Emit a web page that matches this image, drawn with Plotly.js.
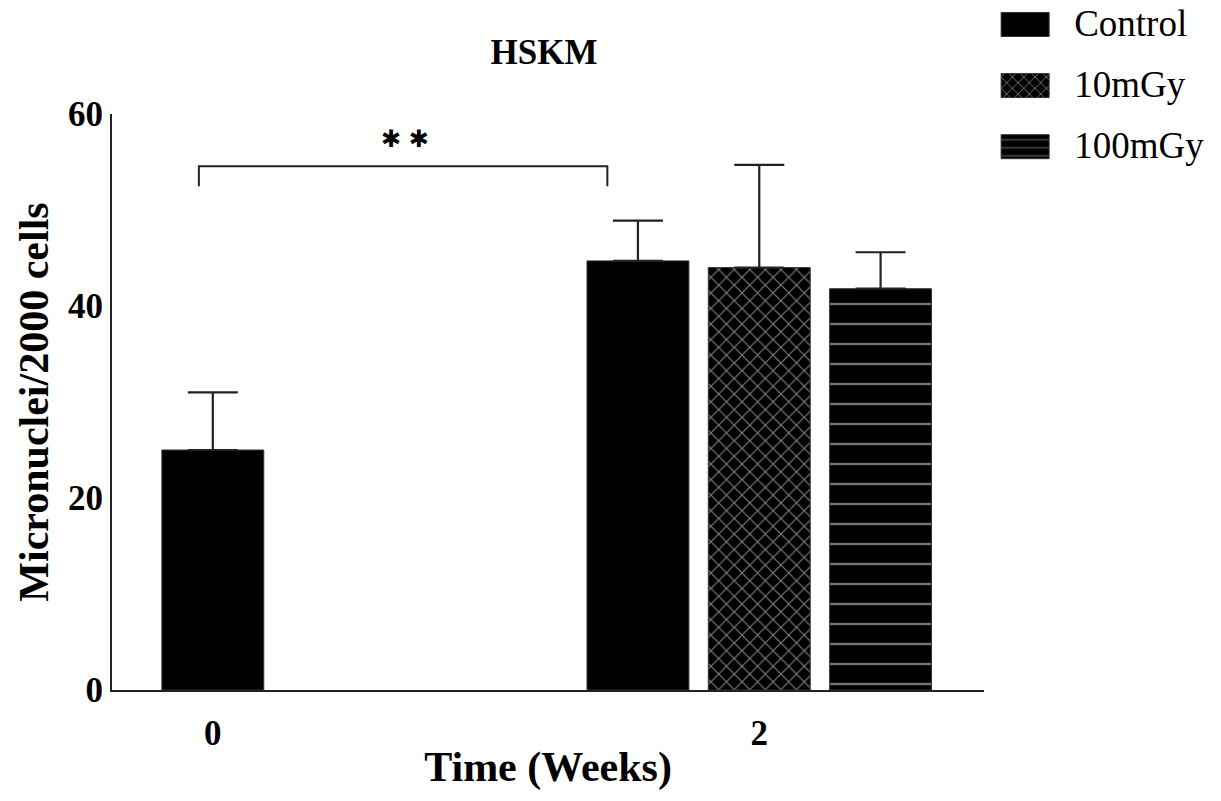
<!DOCTYPE html>
<html>
<head>
<meta charset="utf-8">
<script src="https://cdn.plot.ly/plotly-3.0.1.min.js"></script>
<style>html,body{margin:0;padding:0;background:#fff;}#chart{width:1221px;height:801px;}</style>
</head>
<body>
<div id="chart"></div>
<script>
// ---- data ----
const weeks = [0, 2];
const weekLabels = ["0", "2"];
const controlMean = [25.0, 44.7];
const controlErr = [6.0, 4.2];
const mGy10Week = [2];
const mGy10Mean = [44.0];
const mGy10Err = [10.7];
const mGy100Week = [2];
const mGy100Mean = [41.8];
const mGy100Err = [3.8];
const seriesNames = ["Control", "10mGy", "100mGy"];

// ---- style ----
const W = 0.373;   // bar width (x units)
const D = 0.444;   // group offset
const FONT = "Liberation Serif, Times New Roman, serif";
const lineStyle = {color: "#333", width: 1};
const errStyle = (arr) => ({type: "data", symmetric: false, array: arr, arrayminus: arr.map(() => 0),
  color: "#222", thickness: 2.2, width: 25});

const traces = [
  {type: "bar", name: seriesNames[0], legendgroup: "a", x: weeks, y: controlMean,
   width: W, offset: [-W / 2, -D - W / 2],
   marker: {color: "#000", line: lineStyle}, error_y: errStyle(controlErr)},
  {type: "bar", name: seriesNames[1], legendgroup: "b", x: mGy10Week, y: mGy10Mean,
   width: W, offset: -W / 2,
   marker: {color: "#000", line: lineStyle,
     pattern: {shape: "x", fgcolor: "#fff", bgcolor: "#000", size: 11, solidity: 0.2, fillmode: "overlay"}},
   error_y: errStyle(mGy10Err)},
  {type: "bar", name: seriesNames[2], legendgroup: "c", x: mGy100Week, y: mGy100Mean,
   width: W, offset: D - W / 2,
   marker: {color: "#000", line: lineStyle,
     pattern: {shape: "-", fgcolor: "#e6e6e6", bgcolor: "#000", size: 20, solidity: 0.12, fillmode: "overlay"}},
   error_y: errStyle(mGy100Err)}
];

const layout = {
  width: 1221, height: 801,
  margin: {l: 112, r: 236, t: 114, b: 110.5},
  paper_bgcolor: "#fff", plot_bgcolor: "#fff",
  barmode: "overlay",
  showlegend: true,
  font: {family: FONT, color: "#000"},
  title: {text: "<b>HSKM</b>", font: {family: FONT, size: 35, color: "#000"},
    x: 0.4455, xref: "container", xanchor: "center", y: 0.936, yref: "container", yanchor: "middle"},
  xaxis: {range: [-0.369, 2.823], tickvals: weeks, ticktext: weekLabels,
    showline: true, linecolor: "#222", linewidth: 2, showgrid: false, zeroline: false,
    ticks: "", ticklabelstandoff: 11,
    tickfont: {family: FONT, size: 35, color: "#000", weight: "bold"},
    title: {text: "<b>Time (Weeks)</b>", font: {family: FONT, size: 42, color: "#000"}, standoff: 0}},
  yaxis: {range: [0, 60], dtick: 20, showline: true, linecolor: "#222", linewidth: 2,
    showgrid: false, zeroline: false, ticks: "", ticklabelstandoff: 0,
    tickfont: {family: FONT, size: 35, color: "#000", weight: "bold"},
    title: {text: "<b>Micronuclei/2000 cells</b>", font: {family: FONT, size: 42, color: "#000"}, standoff: 6}},
  legend: {xref: "container", yref: "container", x: 0.806, y: 1, xanchor: "left", yanchor: "top",
    font: {family: FONT, size: 37, color: "#000"}, itemwidth: 80, traceorder: "grouped",
    tracegroupgap: 10, bgcolor: "rgba(0,0,0,0)"},
  shapes: [
    {type: "path", xref: "x", yref: "y", path: "M -0.051 52.48 L -0.051 54.56 L 1.444 54.56 L 1.444 52.48",
     line: {color: "#222", width: 2}}
  ],
  annotations: [
    {xref: "x", yref: "y", x: 0.702, y: 57.4, text: "✱ ✱", showarrow: false,
     font: {family: "DejaVu Sans, sans-serif", size: 24, color: "#000"}, yanchor: "middle"}
  ]
};

let legendShifted = false;
function fixLegend() {
  const lg = document.querySelector("#chart .legend");
  if (lg && !legendShifted) {
    const t = lg.getAttribute("transform") || "";
    const mm = t.match(/translate\(\s*([-\d.]+)[ ,]+([-\d.]+)\s*\)/);
    if (mm) {
      lg.setAttribute("transform", `translate(${parseFloat(mm[1])},${parseFloat(mm[2]) - 9})`);
      legendShifted = true;
    }
  }
  document.querySelectorAll("#chart .legend .traces").forEach(tr => {
    const txt = tr.querySelector("text.legendtext");
    if (!txt) return;
    const tb = txt.getBoundingClientRect();
    tr.querySelectorAll(".legendpoints path").forEach(p => {
      const m = p.parentNode.getScreenCTM();
      const right = tb.left - 25, left = right - 48;
      const cy = tb.top + tb.height / 2 + 1;
      const lx = (left - m.e) / m.a, rx = (right - m.e) / m.a;
      const ty = (cy - 12 - m.f) / m.d, by = (cy + 12 - m.f) / m.d;
      p.removeAttribute("transform");
      p.setAttribute("d", `M${rx},${by}H${lx}V${ty}H${rx}Z`);
    });
  });
}

Plotly.newPlot("chart", traces, layout, {displayModeBar: false, staticPlot: true}).then(() => {
  fixLegend();
  setTimeout(fixLegend, 300);
});
</script>
</body>
</html>
